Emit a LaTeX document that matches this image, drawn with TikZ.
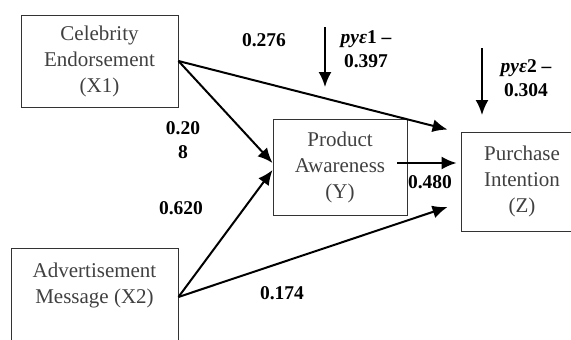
\documentclass[tikz,border=0pt]{standalone}
\usepackage{fontspec}
\setmainfont{Liberation Serif}
\usetikzlibrary{arrows.meta,calc}
\tikzstyle{box}=[rectangle,draw=black!80,line width=0.9pt,text=black!75,align=center,font=\fontsize{21}{26}\selectfont]
\tikzstyle{edge} = [draw,line width=2pt,-{Latex[length=15pt,width=13pt]}]
\tikzstyle{weight} = [font=\fontsize{19.5}{24}\selectfont\bfseries,align=center]

\begin{document}
\begin{tikzpicture}[x=1pt,y=-1pt]
    \useasboundingbox (0,0) rectangle (571,340);
    \clip (0,0) rectangle (571,340);

    % variables
    \node[box,minimum width=157pt,minimum height=92pt] (X1) at (99.5,61) {Celebrity\\Endorsement\\(X1)};
    \node[box,minimum width=167pt,inner ysep=14pt,text depth=80pt,anchor=north] (X2) at (94.5,248) {Advertisement\\Message (X2)};
    \node[box,minimum width=134pt,minimum height=96pt] (Y) at (340,167) {Product\\Awareness\\(Y)};
    \node[box,minimum width=122pt,minimum height=99pt] (Z) at (522,181.5) {Purchase\\Intention\\(Z)};

    % paths between variables
    \foreach \source/\xa/\ya/\dest/\xb/\yb in {X1.east/0/0/Y.west/0/4, X1.east/0/0/Z.north west/-13/2,
            X2.north east/0/-49/Y.west/0/-3, X2.north east/0/-49/Z.west/-13/-25.5, Y.east/-10/4/Z.west/-4/18.5}
        \path[edge] ([xshift=\xa pt,yshift=\ya pt]\source) -- ([xshift=\xb pt,yshift=\yb pt]\dest);

    % residuals
    \coordinate (E1) at (325,27);
    \coordinate (E1end) at (325,87);
    \coordinate (E2) at (482,48);
    \coordinate (E2end) at (482,115);
    \path[edge] (E1) -- (E1end);
    \path[edge] (E2) -- (E2end);

    % weights
    \foreach \pos/\name/\weight in {{(264,40)/w1/0.276}, {(183,140)/w2/{0.20\\8}}, {(181,208)/w3/0.620},
            {(282,293)/w4/0.174}, {(430,182)/w5/0.480}}
        \node[weight] (\name) at \pos {\weight};
    \node[weight] (r1) at (366,49) {\textit{pyε}1 –\\0.397};
    \node[weight] (r2) at (526,78) {\textit{pyε}2 –\\0.304};
\end{tikzpicture}
\end{document}
